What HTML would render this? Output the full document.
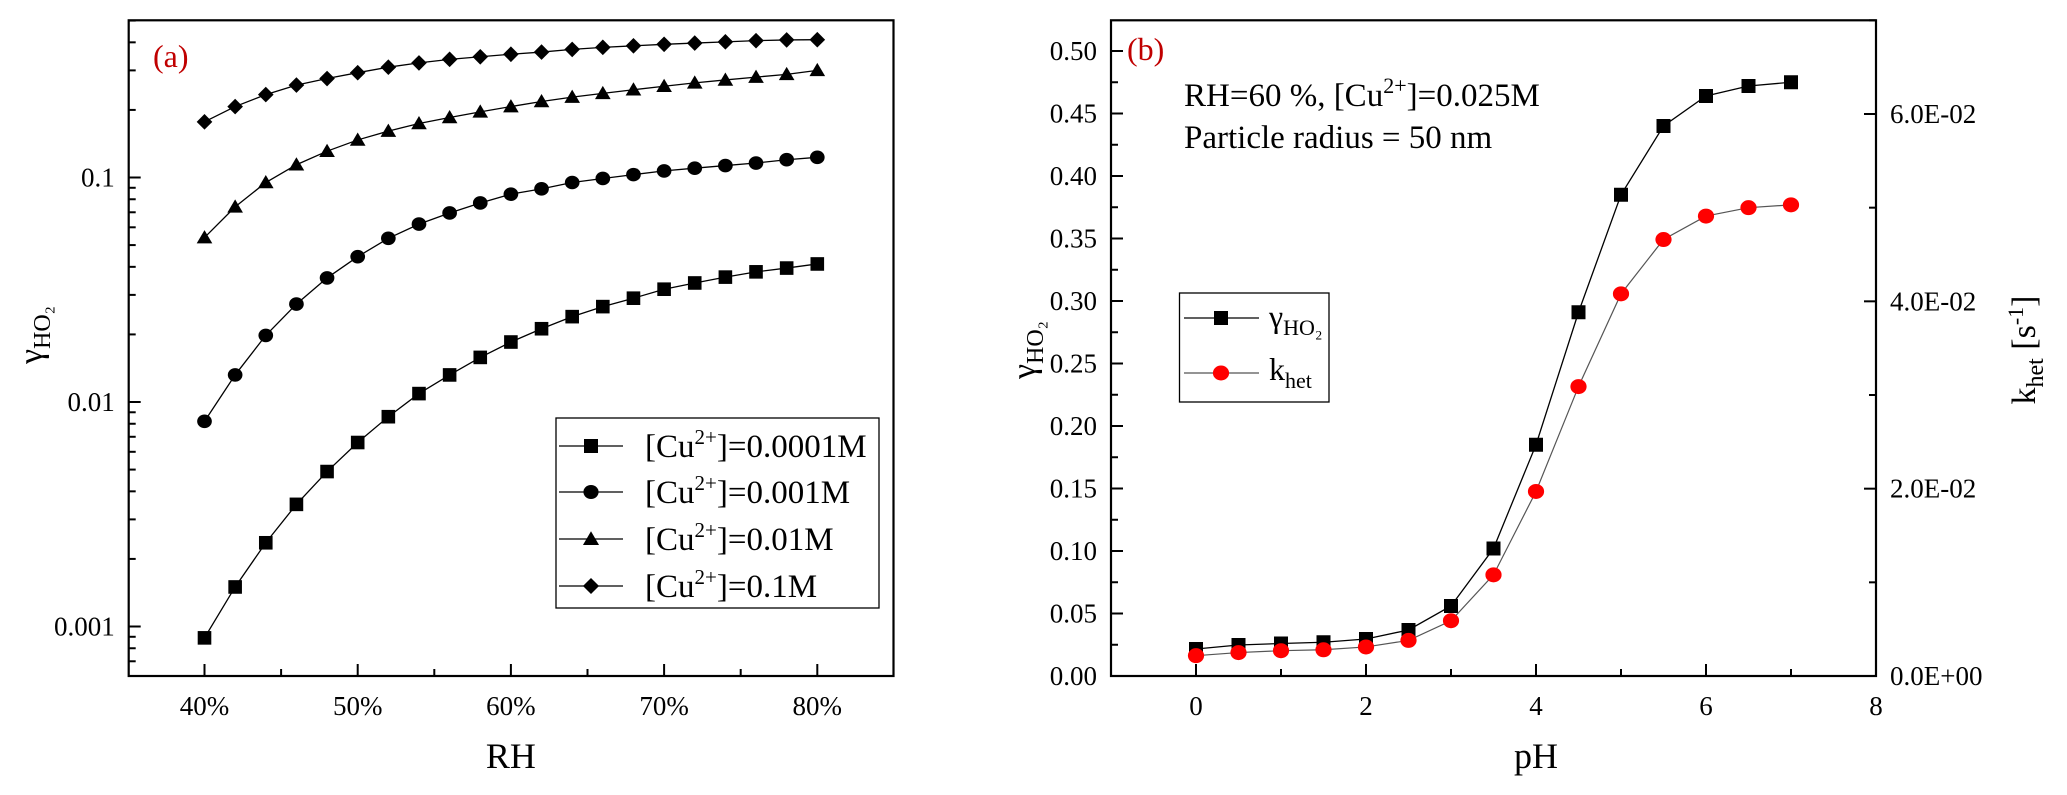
<!DOCTYPE html>
<html><head><meta charset="utf-8"><style>
html,body{margin:0;padding:0;background:#fff;}
svg{display:block;font-family:"Liberation Serif",serif;}
svg text{font-family:"Liberation Serif",serif;}
</style></head><body>
<svg id="fig" width="2067" height="795" viewBox="0 0 2067 795" font-family="Liberation Serif, serif"></svg>
<script>
// ---- Panel (a) data ----
const rhValues = [40,42,44,46,48,50,52,54,56,58,60,62,64,66,68,70,72,74,76,78,80];
const gammaCu00001 = [0.00089,0.0015,0.00236,0.0035,0.0049,0.0066,0.0086,0.0109,0.0132,0.0158,0.0185,0.0212,0.024,0.0266,0.029,0.0318,0.0339,0.036,0.038,0.0395,0.0412];
const gammaCu0001 = [0.0082,0.0132,0.0198,0.0273,0.0357,0.0444,0.0536,0.062,0.0695,0.077,0.0843,0.089,0.095,0.099,0.103,0.107,0.110,0.113,0.116,0.120,0.123];
const gammaCu001 = [0.054,0.074,0.095,0.114,0.131,0.147,0.161,0.174,0.185,0.196,0.207,0.218,0.228,0.237,0.246,0.255,0.264,0.272,0.280,0.288,0.300];
const gammaCu01 = [0.177,0.207,0.234,0.258,0.276,0.293,0.310,0.324,0.336,0.345,0.354,0.362,0.372,0.380,0.386,0.392,0.397,0.402,0.407,0.410,0.411];
const seriesLabelsA = ["0.0001M","0.001M","0.01M","0.1M"];
const rhTicks = [40,50,60,70,80];
const logTicks = [0.001,0.01,0.1];
const logTickLabels = ["0.001","0.01","0.1"];
// ---- Panel (b) data ----
const phValues = [0,0.5,1,1.5,2,2.5,3,3.5,4,4.5,5,5.5,6,6.5,7];
const gammaPH = [0.0216,0.0248,0.026,0.027,0.0296,0.0368,0.056,0.102,0.185,0.291,0.385,0.44,0.464,0.472,0.475];
const khetPH = [0.00217,0.0025,0.0027,0.0028,0.0031,0.0038,0.0059,0.0108,0.0197,0.0309,0.0408,0.0466,0.0491,0.0500,0.0503];
const phTicks = [0,2,4,6,8];
const gammaTicks = [0,0.05,0.1,0.15,0.2,0.25,0.3,0.35,0.4,0.45,0.5];
const khetTicks = [0,0.02,0.04,0.06];
const khetTickLabels = ["0.0E+00","2.0E-02","4.0E-02","6.0E-02"];

const NS="http://www.w3.org/2000/svg";
const svg=document.getElementById('fig');
function el(tag,attrs,parent,text){const e=document.createElementNS(NS,tag);for(const k in attrs)e.setAttribute(k,attrs[k]);if(text!==undefined)e.textContent=text;(parent||svg).appendChild(e);return e;}

const A={l:128.7,r:893.5,t:20.3,b:676};
const xA=v=>204.5+(v-40)*15.32;
const yA=v=>177.5-(Math.log10(v)+1)*224.5;
const B={l:1111,r:1876,t:20.3,b:676};
const xB=v=>1196+v*85;
const yB=v=>676-v*1250;
const yK=v=>676-v*(562/0.06);

function marker(g,shape,x,y,s,fill){
  let m;
  if(shape==='square') m=el('rect',{x:x-s,y:y-s,width:2*s,height:2*s,fill:fill},g);
  else if(shape==='circle') m=el('ellipse',{cx:x,cy:y,rx:s*1.08,ry:s,fill:fill},g);
  else if(shape==='triangle') m=el('polygon',{points:`${x},${y-s*1.1} ${x+s*1.15},${y+s*0.85} ${x-s*1.15},${y+s*0.85}`,fill:fill},g);
  else m=el('polygon',{points:`${x},${y-s*1.15} ${x+s*1.15},${y} ${x},${y+s*1.15} ${x-s*1.15},${y}`,fill:fill},g);
  return m;
}

// ===== Panel A =====
const gA=el('g',{});  
const frA=el('rect',{x:A.l,y:A.t,width:A.r-A.l,height:A.b-A.t,fill:'none',stroke:'#000','stroke-width':2.2},gA);
 
for(let d=-4;d<=0;d++){for(let m=1;m<=9;m++){const v=m*Math.pow(10,d);const y=yA(v);if(y<A.t||y>A.b)continue;
  const len=m===1?12:7;const t=el('line',{x1:A.l,x2:A.l+len,y1:y,y2:y,stroke:'#000','stroke-width':2},gA);
   }}
logTicks.forEach((v,i)=>{const t=el('text',{x:A.l-14,y:yA(v)+9,'font-size':27,'text-anchor':'end'},gA,logTickLabels[i]);
   });
for(let v=35;v<=85;v+=5){const x=xA(v);if(x<A.l||x>A.r)continue;const len=v%10===0?12:7;
  const t=el('line',{x1:x,x2:x,y1:A.b,y2:A.b-len,stroke:'#000','stroke-width':2},gA);
   }
rhTicks.forEach(v=>{const t=el('text',{x:xA(v),y:715,'font-size':27,'text-anchor':'middle'},gA,v+'%');
   });
const xtA=el('text',{x:xA(60),y:768,'font-size':36,'text-anchor':'middle'},gA,'RH');
 
const ytA=el('text',{transform:'translate(42,335) rotate(-90)','font-size':34,'text-anchor':'middle'},gA);
 
el('tspan',{},ytA,'γ'); el('tspan',{'font-size':24,dy:8},ytA,'HO₂');
const laA=el('text',{x:153,y:67,'font-size':32,fill:'#c00000'},gA,'(a)');
 
const seriesA=[gammaCu00001,gammaCu0001,gammaCu001,gammaCu01];
const shapesA=['square','circle','triangle','diamond'];
seriesA.forEach((vals,si)=>{
  const g=el('g',{},gA);  
  const pts=vals.map((v,i)=>xA(rhValues[i])+','+yA(v)).join(' ');
  const pl=el('polyline',{points:pts,fill:'none',stroke:'#000','stroke-width':1.3},g);
   
  vals.forEach((v,i)=>{const m=marker(g,shapesA[si],xA(rhValues[i]),yA(v),6.8,'#000');
     });
});
const lgA=el('g',{},gA);  
el('rect',{x:556,y:418,width:323,height:190,fill:'#fff',stroke:'#000','stroke-width':1.3},lgA);
const rowY=[446,492,539,586];
seriesLabelsA.forEach((lab,i)=>{
  const e=el('g',{},lgA);  
  el('line',{x1:559,x2:623,y1:rowY[i],y2:rowY[i],stroke:'#000','stroke-width':1.3},e);
  marker(e,shapesA[i],591,rowY[i],7,'#000');
  const t=el('text',{x:645,y:rowY[i]+11,'font-size':33},e,'[Cu');
  el('tspan',{'font-size':21,dy:-13},t,'2+'); el('tspan',{dy:13},t,']='+lab);
});

// ===== Panel B =====
const gB=el('g',{});  
const frB=el('rect',{x:B.l,y:B.t,width:B.r-B.l,height:B.b-B.t,fill:'none',stroke:'#000','stroke-width':2.2},gB);
 
for(let v=0;v<=0.525;v+=0.025){const y=yB(v);if(y<B.t)continue;const major=Math.round(v*1000)%50===0;
  const t=el('line',{x1:B.l,x2:B.l+(major?12:7),y1:y,y2:y,stroke:'#000','stroke-width':2},gB);
   }
gammaTicks.forEach(v=>{const t=el('text',{x:B.l-14,y:yB(v)+9,'font-size':27,'text-anchor':'end'},gB,v.toFixed(2));
   });
for(let v=0;v<=0.07;v+=0.01){const y=yK(v);if(y<B.t)continue;const major=Math.round(v*100)%2===0;
  const t=el('line',{x1:B.r,x2:B.r-(major?12:7),y1:y,y2:y,stroke:'#000','stroke-width':2},gB);
   }
khetTicks.forEach((v,i)=>{const t=el('text',{x:B.r+14,y:yK(v)+9,'font-size':27},gB,khetTickLabels[i]);
   });
for(let v=-1;v<=8;v+=1){const x=xB(v);if(x<B.l||x>B.r)continue;const major=v%2===0;
  const t=el('line',{x1:x,x2:x,y1:B.b,y2:B.b-(major?12:7),stroke:'#000','stroke-width':2},gB);
   }
phTicks.forEach(v=>{const t=el('text',{x:xB(v),y:715,'font-size':27,'text-anchor':'middle'},gB,String(v));
   });
const xtB=el('text',{x:xB(4),y:768,'font-size':36,'text-anchor':'middle'},gB,'pH');
 
const ytB=el('text',{transform:'translate(1035,350) rotate(-90)','font-size':34,'text-anchor':'middle'},gB);
 
el('tspan',{},ytB,'γ'); el('tspan',{'font-size':24,dy:8},ytB,'HO₂');
const y2t=el('text',{transform:'translate(2035,350) rotate(-90)','font-size':34,'text-anchor':'middle'},gB);
 
el('tspan',{},y2t,'k'); el('tspan',{'font-size':24,dy:8},y2t,'het'); el('tspan',{dy:-8},y2t,' [s'); el('tspan',{'font-size':22,dy:-12},y2t,'-1'); el('tspan',{dy:12},y2t,']');
const laB=el('text',{x:1127,y:60,'font-size':32,fill:'#c00000'},gB,'(b)');
 
const an1=el('text',{x:1184,y:106,'font-size':33},gB,'RH=60 %, [Cu');
 
el('tspan',{'font-size':22,dy:-13},an1,'2+'); el('tspan',{dy:13},an1,']=0.025M');
const an2=el('text',{x:1184,y:148,'font-size':33},gB,'Particle radius = 50 nm');
 
const sg=el('g',{},gB);  
const pg=el('polyline',{points:gammaPH.map((v,i)=>xB(phValues[i])+','+yB(v)).join(' '),fill:'none',stroke:'#000','stroke-width':1.3},sg);
 
const sk=el('g',{},gB);  
const pk=el('polyline',{points:khetPH.map((v,i)=>xB(phValues[i])+','+yK(v)).join(' '),fill:'none',stroke:'#555','stroke-width':1.2},sk);
 
gammaPH.forEach((v,i)=>{const m=marker(sg,'square',xB(phValues[i]),yB(v),7,'#000');
   });
khetPH.forEach((v,i)=>{const m=marker(sk,'circle',xB(phValues[i]),yK(v),7.5,'#f00');
   });
const lgB=el('g',{},gB);  
el('rect',{x:1179.5,y:293,width:149.5,height:109,fill:'#fff',stroke:'#000','stroke-width':1.3},lgB);
const e1=el('g',{},lgB);  
el('line',{x1:1184,x2:1259,y1:318,y2:318,stroke:'#000','stroke-width':1.3},e1);
marker(e1,'square',1221,318,7,'#000');
const t1=el('text',{x:1269,y:327,'font-size':32},e1,'γ'); el('tspan',{'font-size':22,dy:8},t1,'HO₂');
const e2=el('g',{},lgB);  
el('line',{x1:1184,x2:1259,y1:373,y2:373,stroke:'#555','stroke-width':1.2},e2);
marker(e2,'circle',1221,373,7.5,'#f00');
const t2=el('text',{x:1269,y:380,'font-size':32},e2,'k'); el('tspan',{'font-size':22,dy:8},t2,'het');
</script>
</body></html>
